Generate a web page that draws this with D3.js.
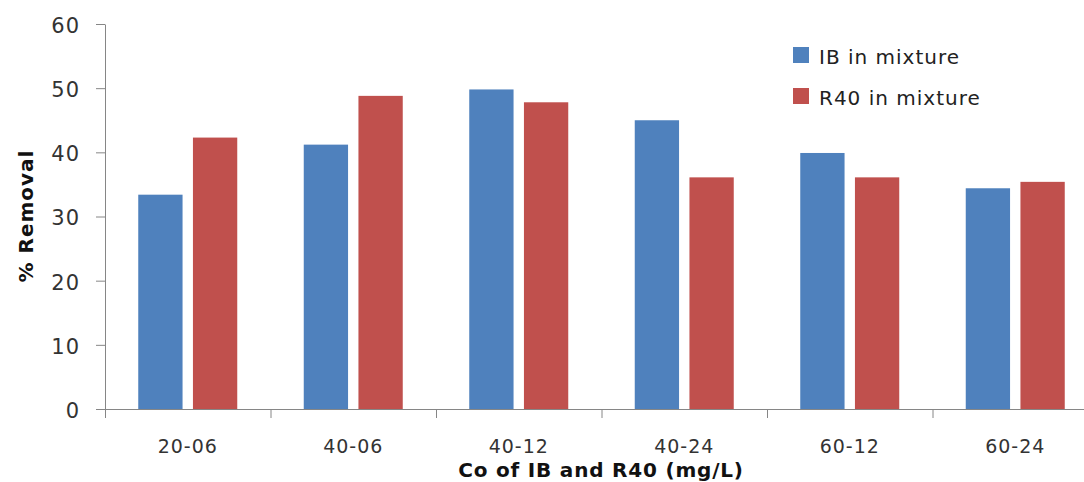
<!DOCTYPE html>
<html>
<head>
<meta charset="UTF-8">
<script src="https://d3js.org/d3.v7.min.js"></script>
<style>
  body { margin: 0; background: #fff; }
  svg { display: block; }
  text { font-family: "DejaVu Sans", Verdana, sans-serif; }
  .axis path, .axis line { stroke: #868686; }
</style>
</head>
<body>
<svg id="chart" width="1084" height="482"></svg>
<script>
// data
const categories = ["20-06", "40-06", "40-12", "40-24", "60-12", "60-24"];
const seriesNames = ["IB in mixture", "R40 in mixture"];
const ibValues = [33.4, 41.2, 49.8, 45.0, 39.9, 34.4];
const r40Values = [42.3, 48.8, 47.8, 36.1, 36.1, 35.4];
const yTicks = [0, 10, 20, 30, 40, 50, 60];
const colors = ["#4F81BD", "#C0504D"];

const svg = d3.select("#chart");

const plotLeft = 105, plotBottom = 409, plotTop = 24, band = 165.5;

const x0 = d3.scaleBand()
    .domain(categories)
    .range([plotLeft, plotLeft + band * categories.length])
    .padding(0);

const x1 = d3.scaleBand()
    .domain(seriesNames)
    .range([0, 99])
    .paddingInner(0.19)
    .paddingOuter(0);

const y = d3.scaleLinear()
    .domain([0, 60])
    .range([plotBottom, plotTop]);

const rows = categories.map((c, i) => ({cat: c, vals: [ibValues[i], r40Values[i]]}));

// bars
const groups = svg.append("g")
  .selectAll("g")
  .data(rows)
  .enter().append("g")
    .attr("transform", d => `translate(${x0(d.cat) + (x0.bandwidth() - 99) / 2},0)`);

groups.selectAll("rect")
  .data(d => d.vals.map((v, k) => ({name: seriesNames[k], v: v, k: k})))
  .enter().append("rect")
    .attr("x", d => x1(d.name))
    .attr("y", d => y(d.v))
    .attr("width", x1.bandwidth())
    .attr("height", d => y(0) - y(d.v))
    .attr("fill", d => colors[d.k]);

// y axis
svg.append("g")
    .attr("class", "axis")
    .attr("transform", `translate(${plotLeft},0)`)
    .call(d3.axisLeft(y).tickValues(yTicks).tickSize(9).tickSizeOuter(0))
    .call(g => g.selectAll("text")
        .attr("x", -25)
        .attr("dy", "0.4em")
        .attr("fill", "#333")
        .style("font-size", "21px")
        .style("letter-spacing", "1px"));

// x axis: labels centered, ticks on category boundaries
const xAxis = svg.append("g")
    .attr("class", "axis")
    .attr("transform", `translate(0,${plotBottom})`)
    .call(d3.axisBottom(x0).tickSize(0).tickSizeOuter(0))
    .call(g => g.select(".domain").attr("d", `M${plotLeft - 9},0.5H1084`))
    .call(g => g.selectAll("text")
        .attr("y", 44)
        .attr("dy", 0)
        .attr("fill", "#333")
        .style("font-size", "19px")
        .style("letter-spacing", "1px"));

xAxis.selectAll(".bound")
  .data(categories)
  .enter().append("line")
    .attr("class", "bound")
    .attr("x1", d => x0(d) + 0.5)
    .attr("x2", d => x0(d) + 0.5)
    .attr("y1", 0)
    .attr("y2", 9);

// axis titles
svg.append("text")
    .attr("transform", "translate(33,216) rotate(-90)")
    .attr("text-anchor", "middle")
    .attr("font-weight", "bold")
    .attr("fill", "#111")
    .style("font-size", "20px")
    .style("letter-spacing", "1px")
    .text("% Removal");

svg.append("text")
    .attr("x", 601)
    .attr("y", 477)
    .attr("text-anchor", "middle")
    .attr("font-weight", "bold")
    .attr("fill", "#111")
    .style("font-size", "20px")
    .style("letter-spacing", "0.8px")
    .text("Co of IB and R40 (mg/L)");

// legend
const legend = svg.append("g")
  .selectAll("g")
  .data(seriesNames)
  .enter().append("g")
    .attr("transform", (d, i) => `translate(793,${47 + i * 41})`);

legend.append("rect")
    .attr("width", 16)
    .attr("height", 16)
    .attr("fill", (d, i) => colors[i]);

legend.append("text")
    .attr("x", 26)
    .attr("y", 17)
    .attr("fill", "#222")
    .style("font-size", "20px")
    .style("letter-spacing", "1px")
    .text(d => d);
</script>
</body>
</html>
